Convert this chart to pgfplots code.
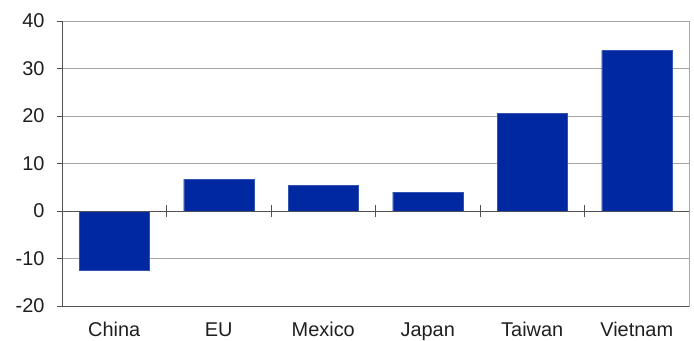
\documentclass[border=0pt]{standalone}
\usepackage{fontspec}
\setmainfont{Liberation Sans}
\usepackage{pgfplots}
\pgfplotsset{compat=1.18}
\definecolor{barblue}{RGB}{0,40,160}
\definecolor{gridgray}{RGB}{165,165,170}
\definecolor{axisdark}{RGB}{80,80,85}
\begin{document}
\begin{tikzpicture}
\path[use as bounding box] (-62bp,-35bp) rectangle (632bp,306bp);
\begin{axis}[
  at={(0,0)}, anchor=south west,
  scale only axis, width=627bp, height=285bp,
  xmin=-0.5, xmax=5.5, ymin=-20, ymax=40,
  xtick={0,1,2,3,4,5},
  xticklabels={China,EU,Mexico,Japan,Taiwan,Vietnam},
  ytick={-20,-10,0,10,20,30,40},
  yticklabels={-20,-10,0,10,20,30,40},
  ymajorgrids, grid style={gridgray, line width=0.8bp},
  axis line style={gridgray, line width=0.8bp},
  x tick style={draw=none},
  y tick style={axisdark, line width=0.8bp},
  ytick pos=left, tick align=outside, major tick length=5bp,
  ticklabel style={font=\fontsize{20}{24}\selectfont, text=black!88},
  yticklabel style={xshift=-9bp},
  xticklabel style={yshift=-8bp},
  ybar, bar width=0.67,
  clip=false,
]
\addplot[fill=barblue, draw=barblue!80!white, line width=0.4bp] coordinates {
  (0,-12.4) (1,6.7) (2,5.4) (3,4.0) (4,20.5) (5,33.8)
};
\draw[axisdark, line width=0.8bp] (axis cs:-0.5,0) -- (axis cs:5.5,0);
\draw[axisdark, line width=0.8bp] (axis cs:-0.5,-20) -- (axis cs:-0.5,40);
\draw[axisdark, line width=0.8bp] (axis cs:-0.5,-20) -- (axis cs:5.5,-20);
\pgfplotsinvokeforeach{0.5,1.5,2.5,3.5,4.5}{
  \draw[axisdark, line width=0.8bp] ([yshift=-6bp]axis cs:#1,0) -- ([yshift=6bp]axis cs:#1,0);
}
\end{axis}
\end{tikzpicture}
\end{document}
